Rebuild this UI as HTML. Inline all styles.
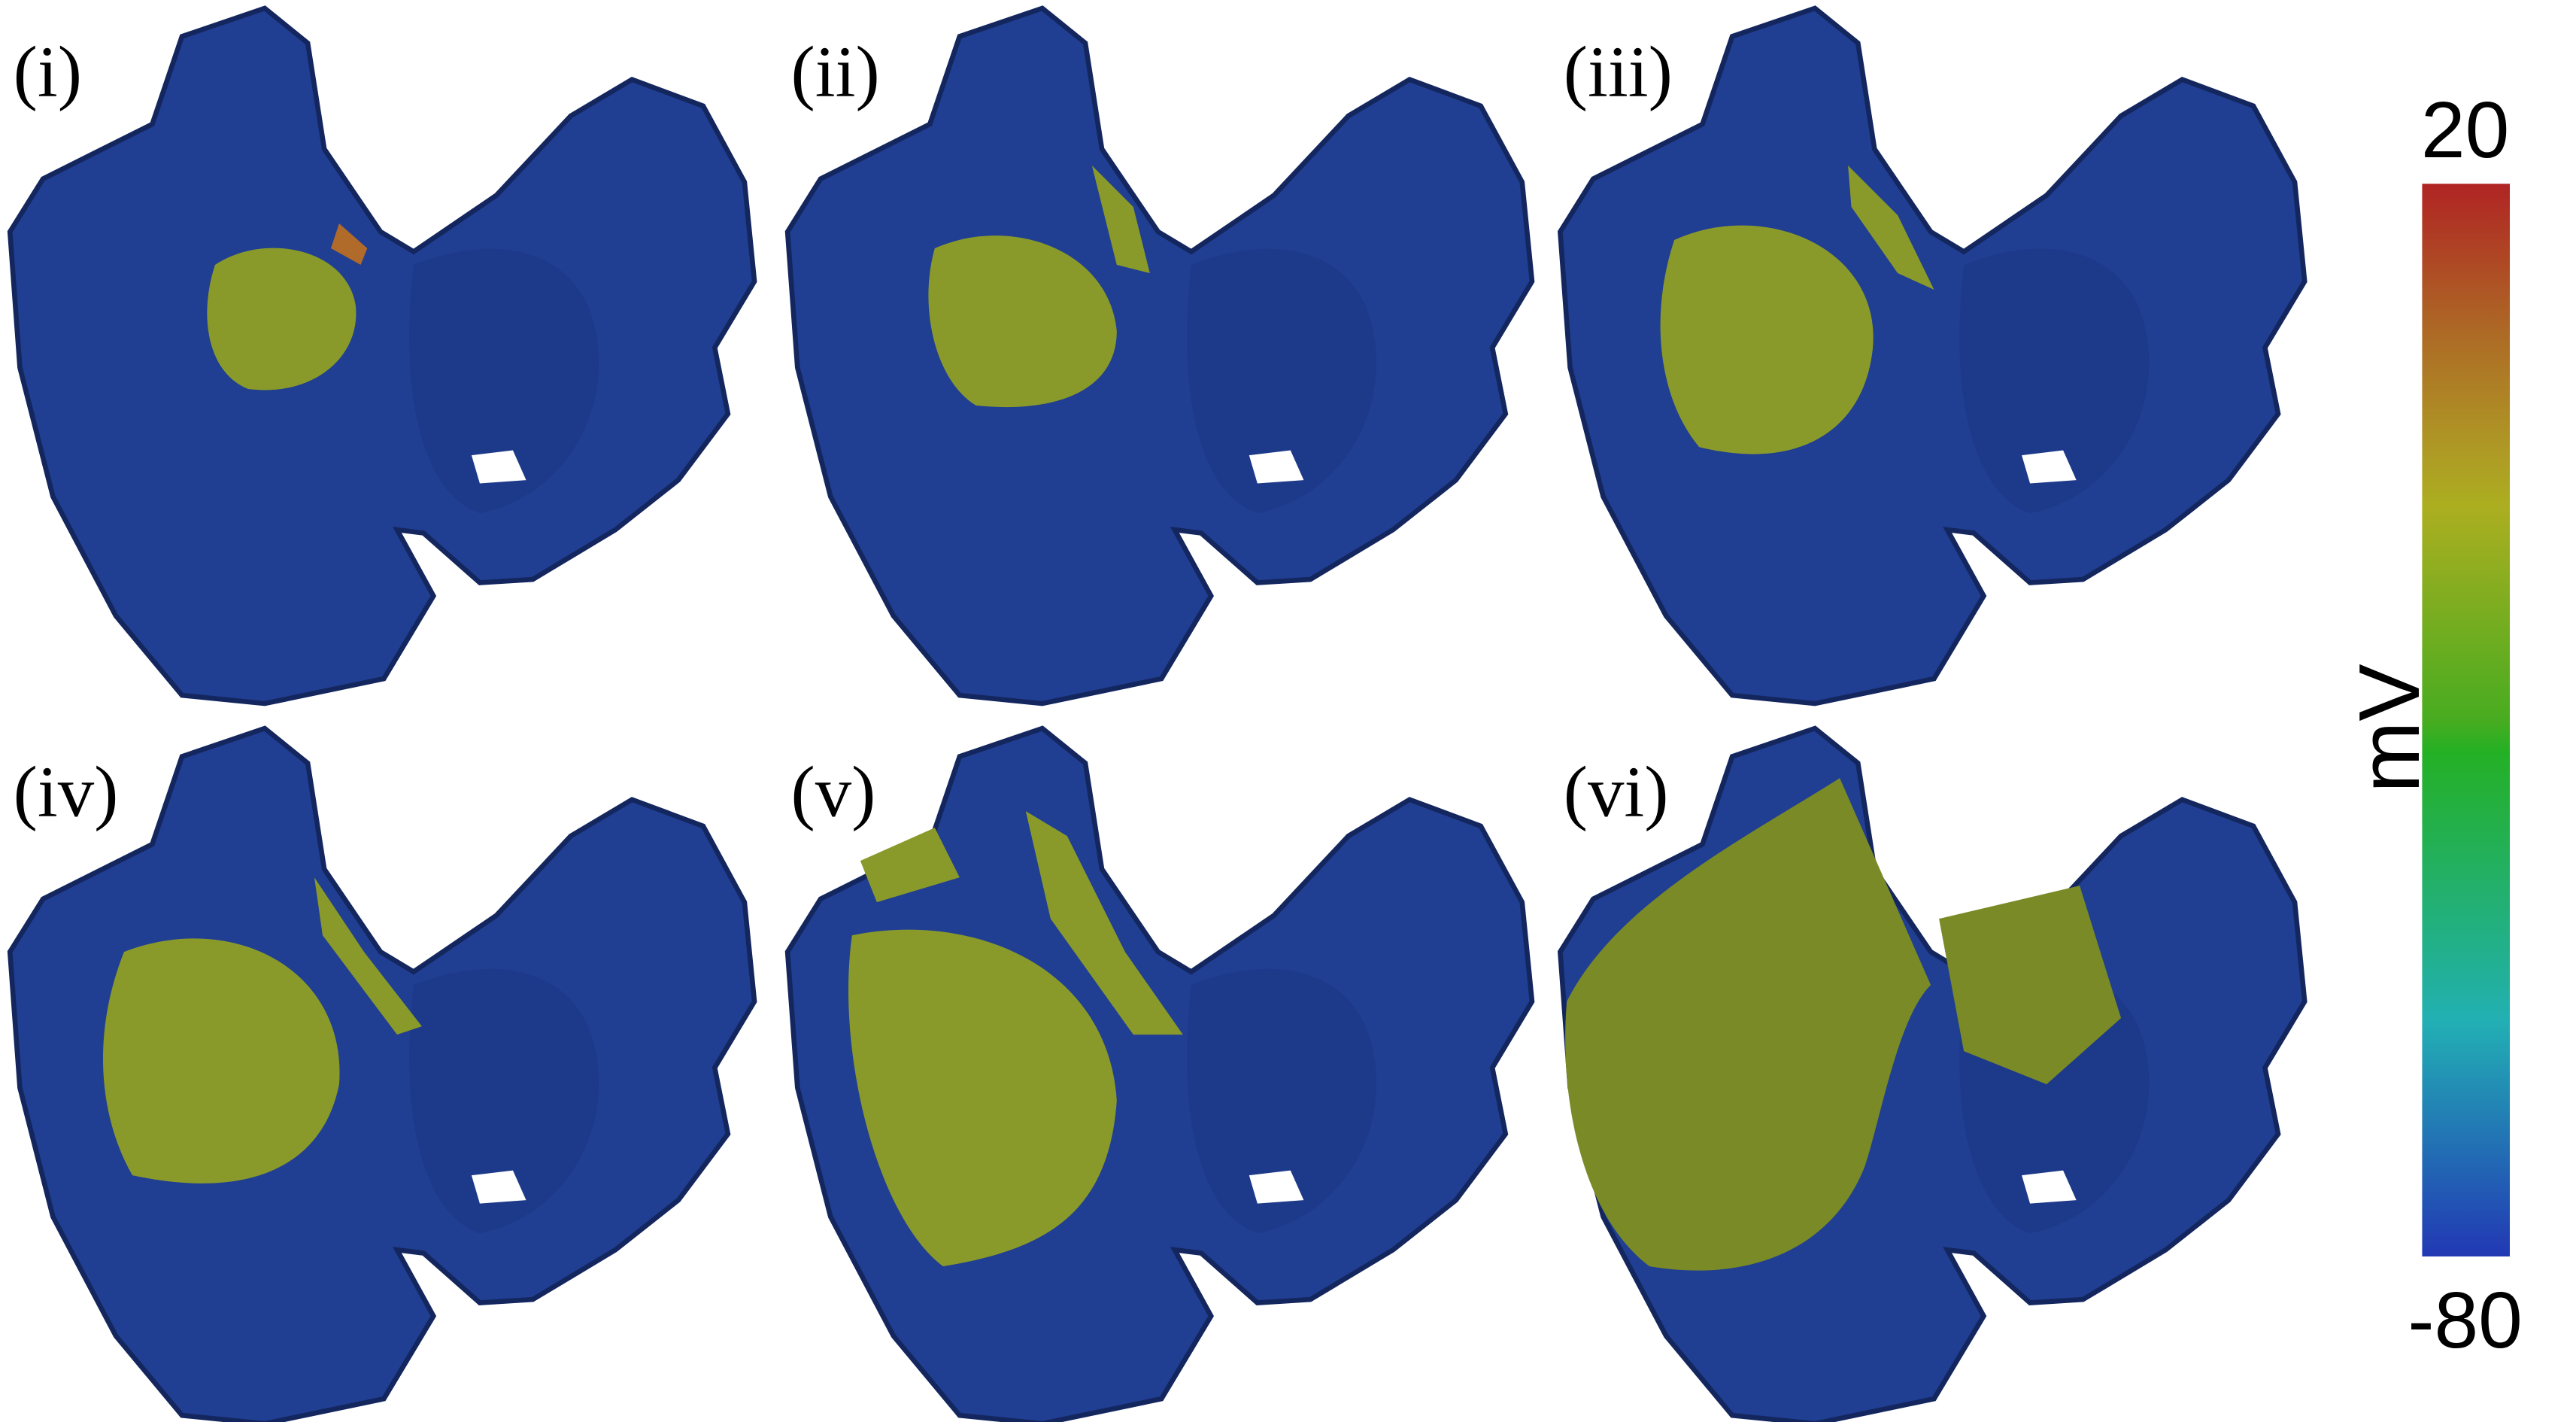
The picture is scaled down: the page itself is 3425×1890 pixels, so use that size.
<!DOCTYPE html>
<html><head><meta charset="utf-8"><style>
html,body{margin:0;padding:0;background:#fff}
svg{display:block}
</style></head><body>
<svg width="3425" height="1890" viewBox="0 0 1557 859" preserveAspectRatio="none" xmlns="http://www.w3.org/2000/svg">
<defs>
<linearGradient id="cb" x1="0" y1="0" x2="0" y2="1">
<stop offset="0" stop-color="#b02424"/>
<stop offset="0.14" stop-color="#ad6a25"/>
<stop offset="0.25" stop-color="#ae9a25"/>
<stop offset="0.30" stop-color="#acae20"/>
<stop offset="0.50" stop-color="#48ac20"/>
<stop offset="0.53" stop-color="#24b024"/>
<stop offset="0.75" stop-color="#22b0a0"/>
<stop offset="0.78" stop-color="#22b0b4"/>
<stop offset="1" stop-color="#2238b4"/>
</linearGradient>
<g id="atria">
<path d="M240,320 L262,360 L232,410 L160,425 L110,420 L70,372 L32,300 L12,222 L6,140 L26,108 L92,75 L110,22 L160,5 L186,26 L196,90 L230,140 L250,152 L300,118 L345,70 L382,48 L425,64 L450,110 L456,170 L432,210 L440,250 L410,290 L372,320 L322,350 L290,352 L256,322 Z" fill="#203e92" stroke="#14265e" stroke-width="3"/>
<path d="M250,160 C300,140 350,150 360,200 C370,250 340,300 290,310 C260,300 240,250 250,160 Z" fill="#1c3784" opacity="0.6"/>
<path d="M285,275 L310,272 L318,290 L290,292 Z" fill="#fff"/>
</g>
</defs>
<g>
<use href="#atria"/>
<path d="M130,160 C160,140 210,150 215,185 C218,215 190,240 150,235 C125,225 120,190 130,160 Z" fill="#8a9a2a"/>
<path d="M205,135 L222,150 L218,160 L200,150 Z" fill="#b06a2a"/>
<text x="8" y="58" font-family="Liberation Serif, serif" font-size="44" fill="#000">(i)</text>
</g>
<g transform="translate(470,0)">
<use href="#atria"/>
<path d="M95,150 C140,130 200,150 205,200 C205,235 170,250 120,245 C95,230 85,185 95,150 Z" fill="#8a9a2a"/>
<path d="M190,100 L215,125 L225,165 L205,160 Z" fill="#8a9a2a"/>
<text x="8" y="58" font-family="Liberation Serif, serif" font-size="44" fill="#000">(ii)</text>
</g>
<g transform="translate(937,0)">
<use href="#atria"/>
<path d="M75,145 C130,120 200,150 195,210 C190,260 150,285 90,270 C65,240 60,190 75,145 Z" fill="#8a9a2a"/>
<path d="M180,100 L210,130 L232,175 L210,165 L182,125 Z" fill="#8a9a2a"/>
<text x="8" y="58" font-family="Liberation Serif, serif" font-size="44" fill="#000">(iii)</text>
</g>
<g transform="translate(0,435)">
<use href="#atria"/>
<path d="M75,140 C140,115 210,150 205,220 C195,270 150,290 80,275 C60,240 55,190 75,140 Z" fill="#8a9a2a"/>
<path d="M190,95 L220,140 L255,185 L240,190 L195,130 Z" fill="#8a9a2a"/>
<text x="8" y="58" font-family="Liberation Serif, serif" font-size="44" fill="#000">(iv)</text>
</g>
<g transform="translate(470,435)">
<use href="#atria"/>
<path d="M45,130 C120,115 200,150 205,230 C200,300 160,320 100,330 C60,300 35,200 45,130 Z" fill="#8a9a2a"/>
<path d="M150,55 L175,70 L210,140 L245,190 L215,190 L165,120 Z" fill="#8a9a2a"/>
<path d="M50,85 L95,65 L110,95 L60,110 Z" fill="#8a9a2a"/>
<text x="8" y="58" font-family="Liberation Serif, serif" font-size="44" fill="#000">(v)</text>
</g>
<g transform="translate(937,435)">
<use href="#atria"/>
<path d="M10,170 C40,110 120,70 175,35 L230,160 C210,180 200,240 190,270 C170,320 120,340 60,330 C20,300 5,230 10,170 Z" fill="#7a8a26"/>
<path d="M235,120 L320,100 L345,180 L300,220 L250,200 Z" fill="#7a8a26"/>
<path d="M120,25 L150,10 L170,30 L140,45 Z" fill="#203e92"/>
<text x="8" y="58" font-family="Liberation Serif, serif" font-size="44" fill="#000">(vi)</text>
</g>
<g>
<rect x="1464" y="111" width="53" height="648" fill="url(#cb)"/>
<text x="1490" y="95" text-anchor="middle" font-family="Liberation Sans, sans-serif" font-size="48" fill="#000">20</text>
<text x="1490" y="814" text-anchor="middle" font-family="Liberation Sans, sans-serif" font-size="48" fill="#000">-80</text>
<text x="1462" y="440" text-anchor="middle" transform="rotate(-90 1462 440)" font-family="Liberation Sans, sans-serif" font-size="52" fill="#000">mV</text>
</g>
</svg>
</body></html>
